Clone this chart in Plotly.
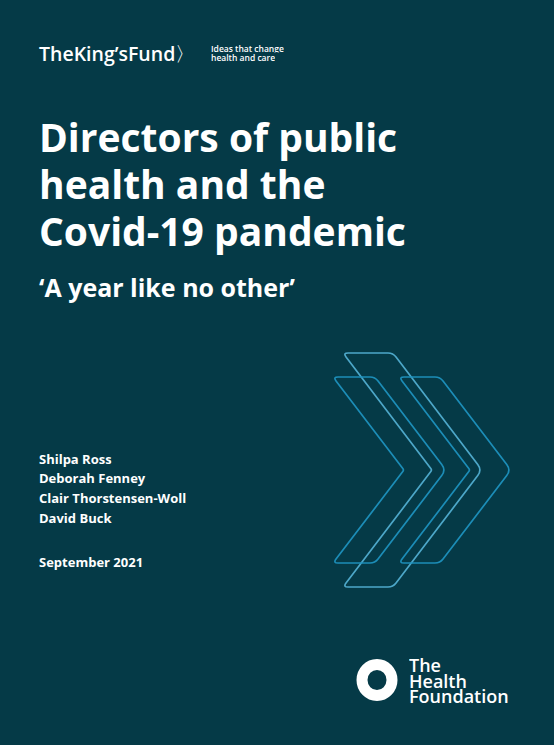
import plotly.graph_objects as go

W, H = 554, 745
BG = "#053A47"

logo_text = "TheKing’sFund<span style='font-weight:normal'>〉</span>"
tagline = ["Ideas that change", "health and care"]
title_lines = ["Directors of public", "health and the", "Covid-19 pandemic"]
subtitle = "‘A year like no other’"
authors = ["Shilpa Ross", "Deborah Fenney", "Clair Thorstensen-Woll", "David Buck"]
date_text = "September 2021"
hf_lines = ["The", "Health", "Foundation"]

# chevrons: (left x, top y, top width, half height, tip offset, colour)
chevrons = [
    (343, 353, 50, 117, 89, "rgba(85,180,215,0.9)"),
    (333, 377, 42, 93, 71, "rgba(30,145,190,0.95)"),
    (399, 377, 41, 93, 71, "rgba(30,145,190,0.95)"),
]


def rounded_path(pts, radii):
    n = len(pts)
    segs = []
    for i in range(n):
        p = pts[i]
        prev = pts[i - 1]
        nxt = pts[(i + 1) % n]
        r = radii[i]

        def towards(a, b, d):
            dx, dy = b[0] - a[0], b[1] - a[1]
            L = (dx * dx + dy * dy) ** 0.5
            return (a[0] + dx / L * d, a[1] + dy / L * d)
        if r > 0:
            a = towards(p, prev, r)
            b = towards(p, nxt, r)
            segs.append(("L" if segs else "M") + f"{a[0]:.2f},{a[1]:.2f}")
            segs.append(f"Q{p[0]:.2f},{p[1]:.2f} {b[0]:.2f},{b[1]:.2f}")
        else:
            segs.append(("L" if segs else "M") + f"{p[0]:.2f},{p[1]:.2f}")
    return " ".join(segs) + " Z"


fig = go.Figure()
shapes = []
for (x0, yt, w, h, dx, col) in chevrons:
    yc = yt + h
    yb = yt + 2 * h
    pts = [(x0, yt), (x0 + w, yt), (x0 + w + dx, yc), (x0 + w, yb),
           (x0, yb), (x0 + dx, yc)]
    radii = [5, 5, 7, 5, 5, 2]
    shapes.append(dict(type="path", xref="x", yref="y", path=rounded_path(pts, radii),
                       line=dict(color=col, width=1.7), fillcolor="rgba(0,0,0,0)"))

# Health Foundation ring
shapes.append(dict(type="circle", xref="x", yref="y", x0=377 - 15, x1=377 + 15,
                   y0=680 - 15.5, y1=680 + 15.5, line=dict(color="white", width=11),
                   fillcolor="rgba(0,0,0,0)"))

ann = []
FONT = "Open Sans"


def txt(x, y, s, size, weight="bold", family=FONT, color="white", box_h=None):
    a = dict(x=x, y=y, xref="x", yref="y", text=s, showarrow=False,
             xanchor="left", yanchor="middle", borderpad=0,
             font=dict(family=family, size=size, color=color, weight=weight))
    if box_h is not None:
        a["height"] = box_h
        a["valign"] = "middle"
    ann.append(a)


txt(38, 53, logo_text, 19.5, weight=600)
for i, t in enumerate(tagline):
    txt(210, 48 + i * 9, t, 8.5, weight=600, box_h=8.5)
for i, t in enumerate(title_lines):
    txt(38, 136 + i * 47, t, 39)
txt(38, 287, subtitle, 25)
for i, t in enumerate(authors):
    txt(38, 458 + i * 19.7, t, 13, box_h=17)
txt(38, 562, date_text, 13)
for i, t in enumerate(hf_lines):
    txt(408, 664.5 + i * 15.5, t, 18, weight=600, box_h=15)

fig.update_layout(
    width=W, height=H, margin=dict(l=0, r=0, t=0, b=0),
    paper_bgcolor=BG, plot_bgcolor=BG,
    xaxis=dict(range=[0, W], visible=False, fixedrange=True),
    yaxis=dict(range=[H, 0], visible=False, fixedrange=True),
    shapes=shapes, annotations=ann, showlegend=False,
)
fig.write_html(
    "out.html",
    config={"displayModeBar": False},
    post_script="document.body.style.margin='0';document.body.style.overflow='hidden';document.body.style.background='" + BG + "';",
)
